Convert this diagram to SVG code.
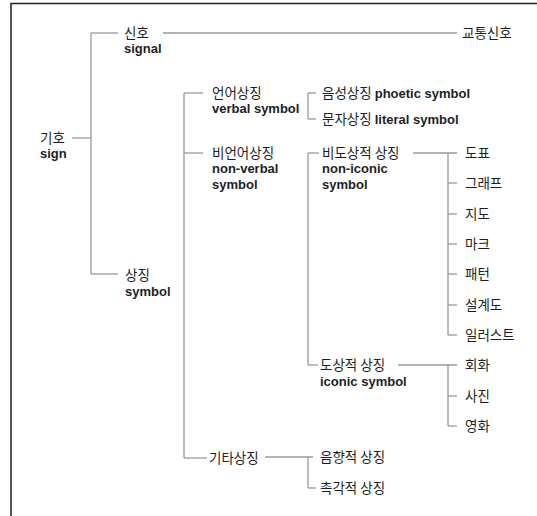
<svg xmlns="http://www.w3.org/2000/svg" width="537" height="516" viewBox="0 0 537 516">
<style>
text{font-family:"Noto Sans CJK KR","Noto Sans",sans-serif;font-size:13.5px;fill:#1e1e1e}
.b{font-family:"Liberation Sans","Noto Sans",sans-serif;font-size:13px;font-weight:bold}
.c line{stroke:#9a9a9a;stroke-width:1.3;fill:none}
.frame{stroke:#222;stroke-width:1.5;fill:none}
</style>
<rect width="537" height="516" fill="#fff"/>
<path class="frame" d="M11,518 V3.5 H539"/>
<g class="c" id="connectors">
<line x1="72" y1="138" x2="91" y2="138"/>
<line x1="91" y1="33" x2="91" y2="274"/>
<line x1="91" y1="33" x2="118" y2="33"/>
<line x1="91" y1="274" x2="118" y2="274"/>
<line x1="163" y1="33" x2="457" y2="33"/>
<line x1="184" y1="93" x2="184" y2="458"/>
<line x1="184" y1="93" x2="203" y2="93"/>
<line x1="184" y1="153" x2="203" y2="153"/>
<line x1="184" y1="458" x2="207" y2="458"/>
<line x1="308" y1="93" x2="308" y2="119"/>
<line x1="308" y1="93" x2="316" y2="93"/>
<line x1="308" y1="119" x2="316" y2="119"/>
<line x1="308" y1="153" x2="308" y2="365"/>
<line x1="308" y1="153" x2="319" y2="153"/>
<line x1="308" y1="365" x2="318" y2="365"/>
<line x1="413" y1="153" x2="457" y2="153"/>
<line x1="448" y1="153" x2="448" y2="335"/>
<line x1="448" y1="183" x2="457" y2="183"/>
<line x1="448" y1="214" x2="457" y2="214"/>
<line x1="448" y1="244" x2="457" y2="244"/>
<line x1="448" y1="274" x2="457" y2="274"/>
<line x1="448" y1="305" x2="457" y2="305"/>
<line x1="448" y1="335" x2="457" y2="335"/>
<line x1="398" y1="365" x2="457" y2="365"/>
<line x1="448" y1="365" x2="448" y2="426"/>
<line x1="448" y1="396" x2="457" y2="396"/>
<line x1="448" y1="426" x2="457" y2="426"/>
<line x1="265" y1="457" x2="313" y2="457"/>
<line x1="308" y1="457" x2="308" y2="488"/>
<line x1="308" y1="488" x2="316" y2="488"/>
</g>
<g id="n-sign"><text x="40" y="143">기호</text><text class="b" x="40" y="158">sign</text></g>
<g id="n-signal"><text x="124" y="38">신호</text><text class="b" x="124" y="53">signal</text></g>
<g id="n-traffic"><text x="462" y="38">교통신호</text></g>
<g id="n-symbol"><text x="125" y="280">상징</text><text class="b" x="125" y="296">symbol</text></g>
<g id="n-verbal"><text x="212" y="98">언어상징</text><text class="b" x="212" y="113">verbal symbol</text></g>
<g id="n-nonverbal"><text x="212" y="158">비언어상징</text><text class="b" x="212" y="173">non-verbal</text><text class="b" x="212" y="189">symbol</text></g>
<g id="n-other"><text x="209" y="463">기타상징</text></g>
<g id="n-phonetic"><text x="322" y="98">음성상징 <tspan class="b">phoetic symbol</tspan></text></g>
<g id="n-literal"><text x="322" y="124">문자상징 <tspan class="b">literal symbol</tspan></text></g>
<g id="n-noniconic"><text x="322" y="158">비도상적 상징</text><text class="b" x="322" y="173">non-iconic</text><text class="b" x="322" y="189">symbol</text></g>
<g id="n-iconic"><text x="320" y="370">도상적 상징</text><text class="b" x="320" y="386">iconic symbol</text></g>
<g id="n-chart"><text x="465" y="158">도표</text></g>
<g id="n-graph"><text x="465" y="188">그래프</text></g>
<g id="n-map"><text x="465" y="219">지도</text></g>
<g id="n-mark"><text x="465" y="249">마크</text></g>
<g id="n-pattern"><text x="465" y="279">패턴</text></g>
<g id="n-blueprint"><text x="465" y="310">설계도</text></g>
<g id="n-illust"><text x="465" y="340">일러스트</text></g>
<g id="n-painting"><text x="465" y="370">회화</text></g>
<g id="n-photo"><text x="465" y="401">사진</text></g>
<g id="n-film"><text x="465" y="431">영화</text></g>
<g id="n-sound"><text x="320" y="462">음향적 상징</text></g>
<g id="n-tactile"><text x="320" y="493">촉각적 상징</text></g>
</svg>
